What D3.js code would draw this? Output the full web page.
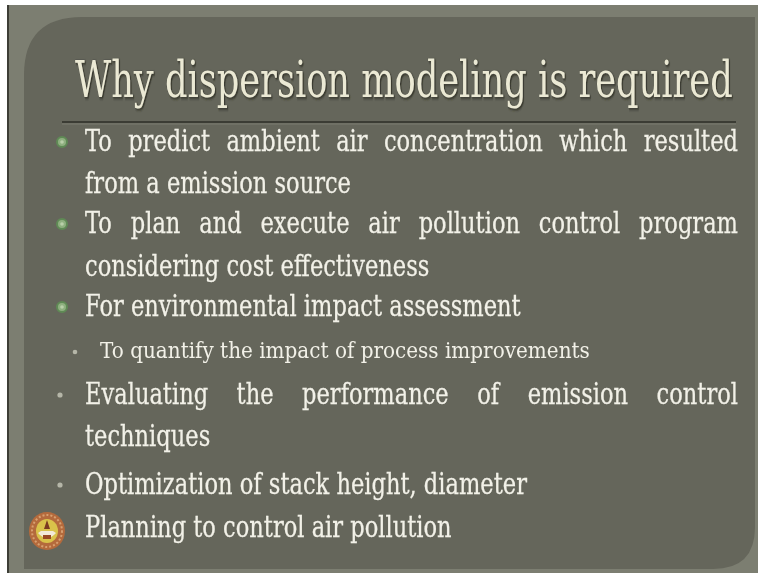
<!DOCTYPE html>
<html>
<head>
<meta charset="utf-8">
<script src="https://cdn.jsdelivr.net/npm/d3@7"></script>
<style>
  html, body { margin: 0; padding: 0; background: #ffffff; }
  svg { display: block; }
</style>
</head>
<body>
<div id="slide"></div>
<script>
// slide content
var titleText = "Why dispersion modeling is required";
var lineTexts = [
    "To predict ambient air concentration which resulted",
    "from a emission source",
    "To plan and execute air pollution control program",
    "considering cost effectiveness",
    "For environmental impact assessment",
    "To quantify the impact of process improvements",
    "Evaluating the performance of emission control",
    "techniques",
    "Optimization of stack height, diameter",
    "Planning to control air pollution"
];
// bullet type of each line: ring, dot, sub, logo or none
var lineBullets = ["ring", "none", "ring", "none", "ring", "sub", "dot", "none", "dot", "logo"];
// lines that are stretched to the right margin
var lineJustified = [true, false, true, false, false, false, true, false, false, false];

var width = 765, height = 577;

var svg = d3.select("#slide")
    .append("svg")
    .attr("width", width)
    .attr("height", height);

// layout
var textLeft = 85, subLeft = 100, textRight = 738;
var bodySize = 29, subSize = 22, titleSize = 50;
var baseY = d3.scaleOrdinal()
    .domain(d3.range(lineTexts.length))
    .range([151, 193, 233, 276, 316, 358, 404, 446, 494, 537]);
var font = "'DejaVu Serif', 'Liberation Serif', serif";

var defs = svg.append("defs");
var shadow = defs.append("filter").attr("id", "shadow")
    .attr("x", "-5%").attr("y", "-20%").attr("width", "110%").attr("height", "140%");
shadow.append("feDropShadow")
    .attr("dx", 1.5).attr("dy", 1.5).attr("stdDeviation", 1)
    .attr("flood-color", "#2a2a24").attr("flood-opacity", 0.8);

var soft = defs.append("filter").attr("id", "soft");
soft.append("feGaussianBlur").attr("stdDeviation", 0.35);

// frame
svg.append("rect")
    .attr("x", 7).attr("y", 5)
    .attr("width", 751).attr("height", 568)
    .attr("fill", "#7c7e71");
svg.append("line")
    .attr("x1", 8).attr("x2", 8).attr("y1", 5).attr("y2", 573)
    .attr("stroke", "#3d3e36").attr("stroke-width", 2);

// panel with rounded top-left and bottom-right corners
var px0 = 24, py0 = 17, px1 = 755, py1 = 569, r1 = 58, r2 = 42;
var panel = d3.path();
panel.moveTo(px0 + r1, py0);
panel.lineTo(px1, py0);
panel.lineTo(px1, py1 - r2);
panel.quadraticCurveTo(px1, py1, px1 - r2, py1);
panel.lineTo(px0, py1);
panel.lineTo(px0, py0 + r1);
panel.quadraticCurveTo(px0, py0, px0 + r1, py0);
panel.closePath();
svg.append("path")
    .attr("d", panel.toString())
    .attr("fill", "#65665b");

// horizontal scale that brings a measured width to the target width
function fitScale(node, target) {
    return target / node.getComputedTextLength();
}

// title
var titleG = svg.append("g");
var title = titleG.append("text")
    .attr("font-family", font)
    .attr("font-size", titleSize)
    .attr("fill", "#ebe9d4")
    .attr("stroke", "#4a4b42").attr("stroke-width", 0.6)
    .attr("paint-order", "stroke")
    .attr("filter", "url(#shadow)")
    .text(titleText);
var titleSx = fitScale(title.node(), 658);
titleG.attr("transform", "translate(75,97) scale(" + titleSx + ",1)");

// title rule
svg.append("line")
    .attr("x1", 62).attr("x2", 736).attr("y1", 122).attr("y2", 122)
    .attr("stroke", "#3b3c34").attr("stroke-width", 2);
svg.append("line")
    .attr("x1", 62).attr("x2", 736).attr("y1", 124).attr("y2", 124)
    .attr("stroke", "#7a7b70").attr("stroke-width", 1);

// measure body font scale from one unjustified line
var probe = svg.append("text")
    .attr("font-family", font).attr("font-size", bodySize)
    .text(lineTexts[4]);
var bodySx = fitScale(probe.node(), 436);
probe.remove();
var probeSub = svg.append("text")
    .attr("font-family", font).attr("font-size", subSize)
    .text(lineTexts[5]);
var subSx = fitScale(probeSub.node(), 490);
probeSub.remove();

var lines = svg.append("g").attr("class", "lines");

lineTexts.forEach(function(txt, i) {
    var isSub = lineBullets[i] === "sub";
    var x0 = isSub ? subLeft : textLeft;
    var sx = isSub ? subSx : bodySx;
    var g = lines.append("g")
        .attr("transform", "translate(" + x0 + "," + baseY(i) + ") scale(" + sx + ",1)")
        .attr("font-family", font)
        .attr("font-size", isSub ? subSize : bodySize)
        .attr("fill", "#f2f1e8")
        .attr("stroke", "#f2f1e8")
        .attr("stroke-width", isSub ? 0 : 0.25)
        .attr("filter", "url(#soft)");

    if (lineJustified[i]) {
        var words = txt.split(" ");
        var nodes = words.map(function(w) {
            return g.append("text").text(w);
        });
        var widths = nodes.map(function(n) { return n.node().getComputedTextLength(); });
        var total = d3.sum(widths);
        var avail = (textRight - x0) / sx;
        var gap = (avail - total) / (words.length - 1);
        var x = 0;
        nodes.forEach(function(n, k) {
            n.attr("x", x);
            x += widths[k] + gap;
        });
    } else {
        g.append("text").text(txt);
    }
});

// bullets
var bullets = svg.append("g").attr("class", "bullets");
lineBullets.forEach(function(b, i) {
    var y = baseY(i);
    if (b === "ring") {
        bullets.append("circle")
            .attr("cx", 62).attr("cy", y - 9).attr("r", 5)
            .attr("fill", "#8fb080").attr("stroke", "#5f8a55").attr("stroke-width", 2);
        bullets.append("circle")
            .attr("cx", 62).attr("cy", y - 9).attr("r", 1.8)
            .attr("fill", "#b9cfa9");
    } else if (b === "dot") {
        bullets.append("circle")
            .attr("cx", 60).attr("cy", y - 9).attr("r", 2.6)
            .attr("fill", "#b5b6a8");
    } else if (b === "sub") {
        bullets.append("circle")
            .attr("cx", 75).attr("cy", y - 6).attr("r", 2.3)
            .attr("fill", "#b5b6a8");
    } else if (b === "logo") {
        var lg = bullets.append("g")
            .attr("transform", "translate(47," + (y - 6) + ")");
        lg.append("ellipse").attr("rx", 18).attr("ry", 19)
            .attr("fill", "#b46a3c");
        lg.append("ellipse").attr("rx", 15).attr("ry", 16)
            .attr("fill", "none").attr("stroke", "#d8a070")
            .attr("stroke-width", 2).attr("stroke-dasharray", "2,2");
        lg.append("ellipse").attr("rx", 11).attr("ry", 12)
            .attr("fill", "#d9c24a");
        lg.append("path")
            .attr("d", "M-9,2 Q0,12 9,2 L6,0 L-6,0 Z")
            .attr("fill", "#f3ead8");
        lg.append("path")
            .attr("d", "M0,-11 L3,-2 L-3,-2 Z")
            .attr("fill", "#7a3a20");
        lg.append("rect")
            .attr("x", -4).attr("y", 4).attr("width", 8).attr("height", 4)
            .attr("fill", "#9a4a24");
    }
});
</script>
</body>
</html>
